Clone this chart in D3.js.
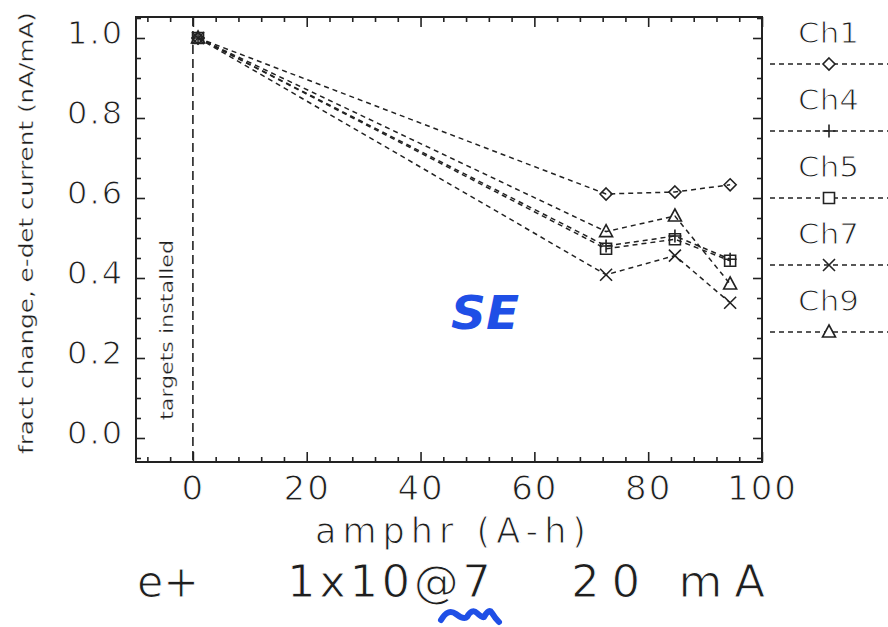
<!DOCTYPE html>
<html><head><meta charset="utf-8">
<script src="https://cdn.jsdelivr.net/npm/d3@7"></script>
<style>
html,body{margin:0;padding:0;background:#fff;}
svg{display:block;}
text{font-family:"DejaVu Sans",sans-serif;fill:#1e1e1e;stroke:#fff;stroke-width:1.0px;}
text.small{stroke-width:0.3px;}
text.blue{stroke:none;}
</style></head>
<body>
<svg id="chart" width="888" height="627"></svg>
<script>
// ---- data ----
const channels = ["Ch1", "Ch4", "Ch5", "Ch7", "Ch9"];
const markerTypes = ["diamond", "plus", "square", "cross", "triangle"];
const amphr = [0.9, 72.6, 84.7, 94.4];
const ch1 = [1.0, 0.610, 0.615, 0.633];
const ch4 = [1.0, 0.480, 0.505, 0.447];
const ch5 = [1.0, 0.473, 0.497, 0.443];
const ch7 = [1.0, 0.408, 0.456, 0.338];
const ch9 = [1.0, 0.516, 0.555, 0.385];
const seriesValues = [ch1, ch4, ch5, ch7, ch9];
const xTickValues = [0, 20, 40, 60, 80, 100];
const yTickValues = [0.0, 0.2, 0.4, 0.6, 0.8, 1.0];
const xTitle = "amphr (A-h)";
const yTitle = "fract change, e-det current (nA/mA)";
const markerLine = 0;            // "targets installed" at amphr = 0
const markerLineLabel = "targets installed";
const footer = ["e+", "1x10@7", "20 mA"];
const annotation = "SE";

// ---- layout ----
const svg = d3.select("#chart");
const L = 136, R = 762, T = 17, B = 462;
const x = d3.scaleLinear().domain([-10, 100]).range([L, R]);
const y = d3.scaleLinear().domain([-0.06, 1.0525]).range([B, T]);
const ink = "#222";

// frame
svg.append("rect").attr("x", L).attr("y", T).attr("width", R - L).attr("height", B - T)
  .attr("fill", "none").attr("stroke", ink).attr("stroke-width", 2);

const xMinor = d3.range(-8, 100.1, 4).filter(v => v % 20 !== 0);
const yMinor = d3.range(-0.05, 1.051, 0.05).map(v => +v.toFixed(2)).filter(v => Math.abs(v * 5 - Math.round(v * 5)) > 1e-6);

function styleAxis(g) {
  g.select(".domain").remove();
  g.selectAll(".tick line").attr("stroke", ink).attr("stroke-width", 1.6);
}
// bottom axis
svg.append("g").attr("transform", `translate(0,${B})`)
  .call(d3.axisBottom(x).tickValues(xTickValues).tickSizeInner(-10).tickSizeOuter(0).tickPadding(14).tickFormat(d3.format("d")))
  .call(styleAxis)
  .call(g => g.selectAll(".tick text").attr("font-size", 34).attr("letter-spacing", 2).attr("fill", "#1e1e1e")
    .attr("font-family", "DejaVu Sans").attr("dy", "0.71em"));
svg.append("g").attr("transform", `translate(0,${B})`)
  .call(d3.axisBottom(x).tickValues(xMinor).tickSizeInner(-5).tickSizeOuter(0).tickFormat(""))
  .call(styleAxis);
// top axis (mirror ticks)
svg.append("g").attr("transform", `translate(0,${T})`)
  .call(d3.axisTop(x).tickValues(xTickValues).tickSizeInner(-10).tickSizeOuter(0).tickFormat(""))
  .call(styleAxis);
svg.append("g").attr("transform", `translate(0,${T})`)
  .call(d3.axisTop(x).tickValues(xMinor).tickSizeInner(-5).tickSizeOuter(0).tickFormat(""))
  .call(styleAxis);
// left axis
svg.append("g").attr("transform", `translate(${L},0)`)
  .call(d3.axisLeft(y).tickValues(yTickValues).tickSizeInner(-9).tickSizeOuter(0).tickPadding(12).tickFormat(d3.format(".1f")))
  .call(styleAxis)
  .call(g => g.selectAll(".tick text").attr("font-size", 32).attr("letter-spacing", 2).attr("fill", "#1e1e1e")
    .attr("font-family", "DejaVu Sans").attr("dy", "0.18em"));
svg.append("g").attr("transform", `translate(${L},0)`)
  .call(d3.axisLeft(y).tickValues(yMinor).tickSizeInner(-5).tickSizeOuter(0).tickFormat(""))
  .call(styleAxis);
// right axis (mirror ticks)
svg.append("g").attr("transform", `translate(${R},0)`)
  .call(d3.axisRight(y).tickValues(yTickValues).tickSizeInner(-9).tickSizeOuter(0).tickFormat(""))
  .call(styleAxis);
svg.append("g").attr("transform", `translate(${R},0)`)
  .call(d3.axisRight(y).tickValues(yMinor).tickSizeInner(-5).tickSizeOuter(0).tickFormat(""))
  .call(styleAxis);

// titles
svg.append("text").attr("x", 315).attr("y", 543)
  .attr("font-size", 35).attr("textLength", 271).attr("lengthAdjust", "spacing").text(xTitle);
svg.append("text").attr("class", "small").attr("transform", `translate(33,${233}) rotate(-90)`).attr("text-anchor", "middle")
  .attr("font-size", 19).attr("textLength", 442).attr("lengthAdjust", "spacingAndGlyphs").text(yTitle);

// targets installed line
svg.append("line").attr("x1", x(markerLine)).attr("x2", x(markerLine)).attr("y1", T).attr("y2", B)
  .attr("stroke", ink).attr("stroke-width", 1.6).attr("stroke-dasharray", "9,5");
svg.append("text").attr("class", "small").attr("transform", `translate(${x(markerLine) - 20},${330}) rotate(-90)`).attr("text-anchor", "middle")
  .attr("font-size", 18).attr("textLength", 180).attr("lengthAdjust", "spacingAndGlyphs").text(markerLineLabel);

// marker shapes
function markerPath(type) {
  switch (type) {
    case "diamond": return "M0,-6L6,0L0,6L-6,0Z";
    case "plus": return "M-6.5,0H6.5M0,-6.5V6.5";
    case "square": return "M-5.5,-5.5H5.5V5.5H-5.5Z";
    case "cross": return "M-6,-6L6,6M-6,6L6,-6";
    case "triangle": return "M0,-7L6.5,5L-6.5,5Z";
  }
}

const line = d3.line().x((d, i) => x(amphr[i])).y(d => y(d));
const series = seriesValues.map((vals, k) => ({ name: channels[k], marker: markerTypes[k], vals }));

const gS = svg.append("g");
series.forEach(s => {
  gS.append("path").attr("d", line(s.vals)).attr("fill", "none").attr("stroke", ink)
    .attr("stroke-width", 1.5).attr("stroke-dasharray", "5,4");
});
series.forEach(s => {
  gS.selectAll(null).data(s.vals).enter().append("path")
    .attr("transform", (d, i) => `translate(${x(amphr[i])},${y(d)})`)
    .attr("d", markerPath(s.marker)).attr("fill", "none").attr("stroke", ink).attr("stroke-width", 1.6);
});

// legend (outside the frame, right)
const legY = d3.scalePoint().domain(channels).range([64, 332]);
const lg = svg.append("g");
series.forEach(s => {
  const yy = legY(s.name);
  lg.append("text").attr("x", 798).attr("y", yy - 21)
    .attr("font-size", 28).attr("textLength", 61).attr("lengthAdjust", "spacingAndGlyphs").text(s.name);
  lg.append("line").attr("x1", 770).attr("x2", 888).attr("y1", yy).attr("y2", yy)
    .attr("stroke", ink).attr("stroke-width", 1.5).attr("stroke-dasharray", "5,4");
  lg.append("path").attr("transform", `translate(829,${yy})`).attr("d", markerPath(s.marker))
    .attr("fill", "#fff").attr("stroke", ink).attr("stroke-width", 1.6);
});

// footer
svg.append("text").attr("x", 137).attr("y", 597).attr("font-size", 45).attr("textLength", 62).attr("lengthAdjust", "spacingAndGlyphs").text(footer[0]);
svg.append("text").attr("x", 287).attr("y", 597).attr("font-size", 45).attr("textLength", 204).attr("lengthAdjust", "spacing").text(footer[1]);
svg.append("text").attr("x", 571).attr("y", 597).attr("font-size", 45).attr("textLength", 194).attr("lengthAdjust", "spacing").text(footer[2]);

// blue handwritten annotations
const blue = "#1f4fe6";
svg.append("text").attr("class", "blue").attr("x", 451).attr("y", 329).attr("font-size", 46).attr("font-weight", "bold")
  .attr("font-style", "italic").attr("textLength", 68).attr("lengthAdjust", "spacingAndGlyphs")
  .style("fill", blue).text(annotation);
svg.append("path").attr("d", "M441,620 Q448,608 456,614 T467,617 Q472,608 477,613 T484,617 Q489,608 492,613 T499,622")
  .attr("fill", "none").attr("stroke", blue).attr("stroke-width", 6).attr("stroke-linecap", "round").attr("stroke-linejoin", "round");
</script>
</body></html>
